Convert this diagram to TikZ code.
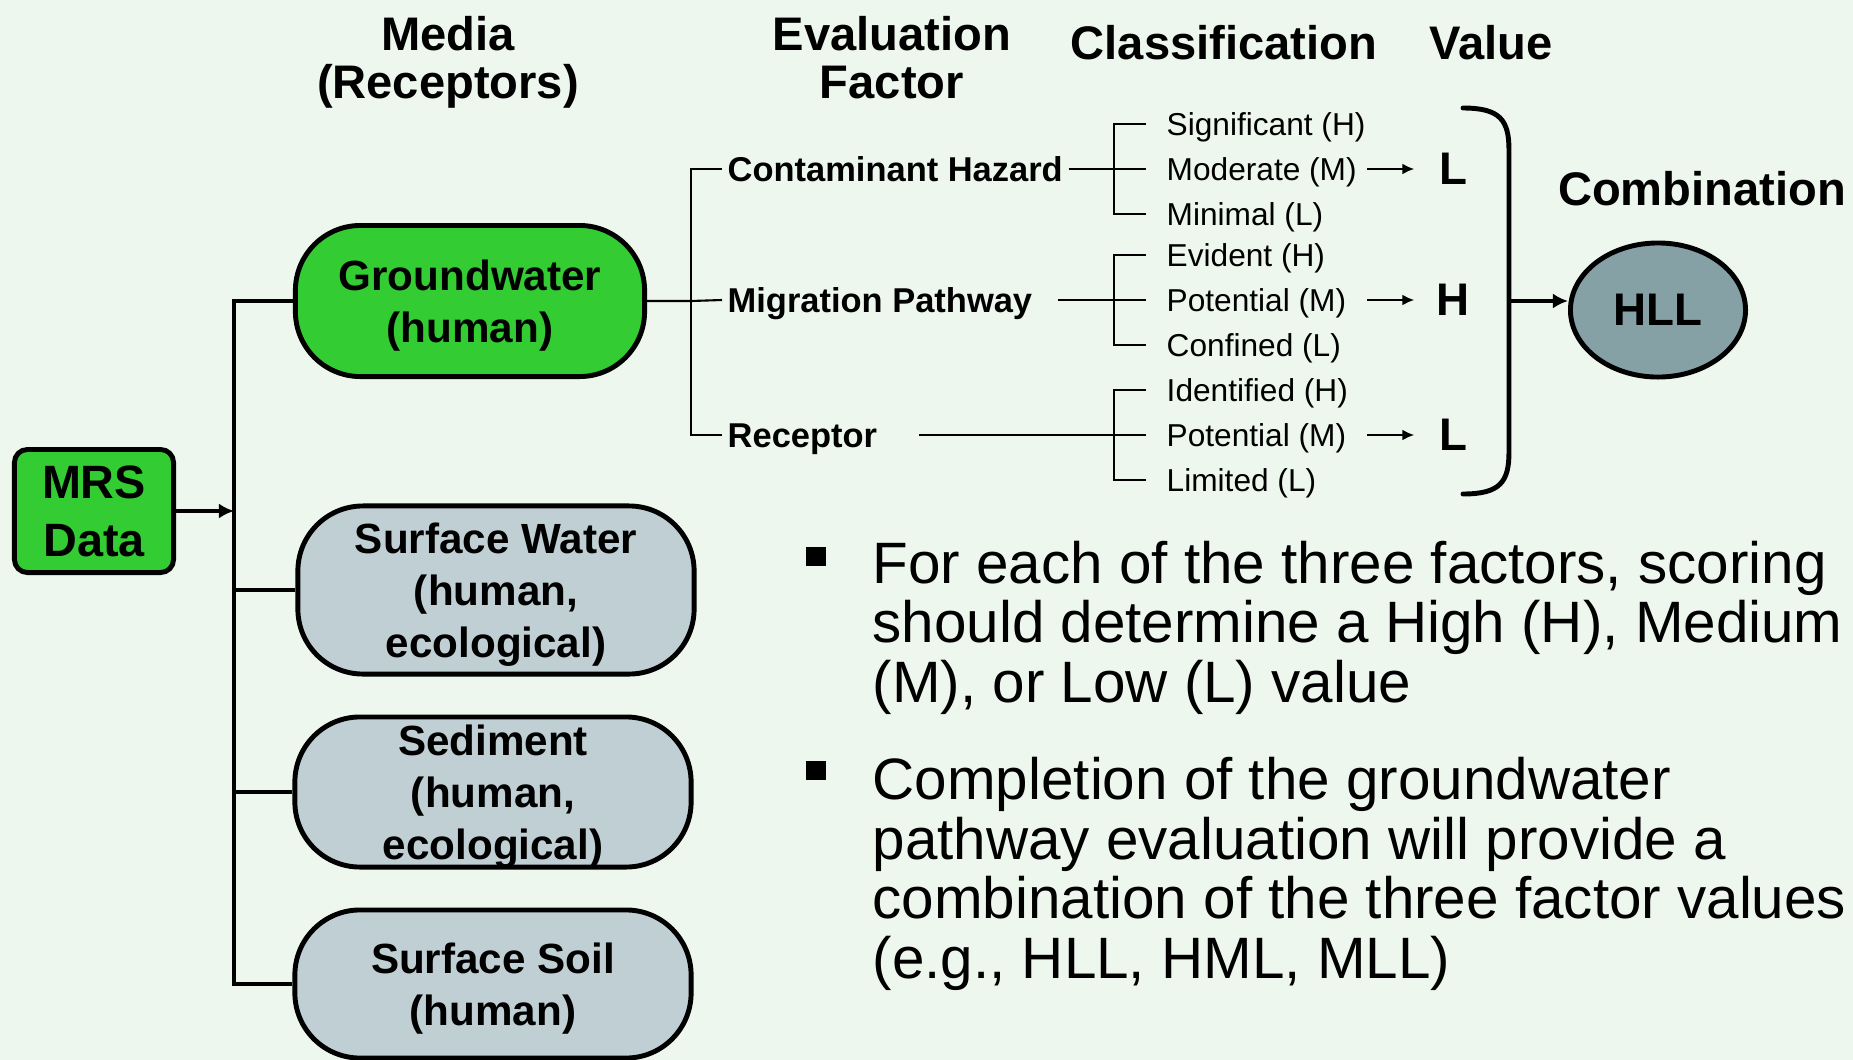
\documentclass[tikz,border=0pt]{standalone}
\usepackage{fontspec}
\setmainfont{Liberation Sans}
\usepackage{xcolor}
\usetikzlibrary{arrows.meta,calc,positioning,shapes.geometric}
\definecolor{bgmint}{RGB}{237,247,237}
\definecolor{mrsgreen}{RGB}{51,204,51}
\definecolor{boxgray}{RGB}{192,207,211}
\definecolor{hllgray}{RGB}{133,161,166}
\tikzset{
  colhead/.style={font=\fontsize{13.4}{13.7}\selectfont\bfseries,align=center,inner sep=0pt},
  mrscard/.style={draw=black,line width=1.4pt,fill=mrsgreen,rounded corners=1.3mm,minimum width=1.59cm,minimum height=1.23cm,inner sep=0pt,align=center,font=\fontsize{13.3}{16.5}\selectfont\bfseries},
  mediacard/.style={draw=black,line width=1.4pt,rounded corners=6.5mm,inner sep=0pt,align=center,text depth=-1.2pt,font=\fontsize{12}{14.8}\selectfont\bfseries},
  greencard/.style={mediacard,fill=mrsgreen,minimum width=3.49cm,minimum height=1.51cm},
  graycard/.style={mediacard,fill=boxgray,minimum width=3.96cm},
  trunk/.style={line width=1.3pt,draw=black},
  fork/.style={line width=0.6pt,draw=black},
  bigarrow/.style={-{Latex[length=1.5mm,width=1.5mm]},line width=1.3pt},
  smallarrow/.style={-{Latex[length=1.2mm,width=1.1mm]},line width=0.6pt},
  factor/.style={anchor=west,inner xsep=0.5mm,inner ysep=0pt,text height=8.8pt,text depth=1.8pt,font=\fontsize{9.8}{11}\selectfont\bfseries},
  classitem/.style={anchor=west,inner xsep=2mm,inner ysep=0pt,text height=8.2pt,text depth=1.7pt,font=\fontsize{9}{10}\selectfont},
  valueletter/.style={minimum width=0.76cm,inner sep=0pt,font=\fontsize{13}{14}\selectfont\bfseries},
  combo/.style={ellipse,draw=black,line width=1.4pt,fill=hllgray,minimum width=1.75cm,minimum height=1.34cm,inner sep=0pt,font=\fontsize{13}{14}\selectfont\bfseries},
  brace/.style={line width=1.4pt,line cap=round},
  bulletsq/.style={fill=black,minimum size=0.19cm,inner sep=0pt},
  bullettext/.style={anchor=base west,align=left,inner sep=0pt,font=\fontsize{16.6}{16.9}\selectfont}
}
\begin{document}
\begin{tikzpicture}[x=0.01cm,y=-0.01cm]
  \fill[bgmint] (0,0) rectangle (1853,1060);
  \useasboundingbox (0,0) rectangle (1853,1060);
  % column heads
  \node[colhead] (hmedia) at (448,62) {Media\\(Receptors)};
  \node[colhead] (heval) at (892,58) {Evaluation\\Factor};
  \node[colhead] (hclass) at (1224,43) {Classification};
  \node[colhead] (hval) at (1491,43) {Value};
  \node[colhead] (hcomb) at (1702,189) {Combination};

  \node[mrscard] (mrs) at (94,511) {MRS\\Data};
  \node[greencard] (gw) at (470,301) {Groundwater\\(human)};
  \node[graycard,minimum height=1.68cm] (sw) at (496,590) {Surface Water\\(human,\\ecological)};
  \node[graycard,minimum height=1.50cm] (sed) at (493,792) {Sediment\\(human,\\ecological)};
  \node[graycard,minimum height=1.48cm] (soil) at (493,984) {Surface Soil\\(human)};

  \coordinate (tk) at (234,301);
  \draw[trunk] (gw.west) -- (tk) -- (tk |- soil.west) -- (soil.west);
  \foreach \m in {sw,sed}{\draw[trunk] (\m.west) -- (\m.west -| tk);}
  \draw[bigarrow] (mrs.east) -- (mrs.east -| tk);

  % evaluation factors
  \node[factor] (ch) at (722,169) {Contaminant Hazard};
  \node[factor] (mp) at (722,300) {Migration Pathway};
  \node[factor] (rc) at (722,435) {Receptor};
  \coordinate (fk) at (691,301);
  \draw[fork] (gw.east) -- (fk) -- (mp.west);
  \draw[fork] (ch.west) -| (fk) |- (rc.west);

  \foreach \g/\yc/\fac/\gap/\ta/\tb/\tc/\v in {1/169/ch/0/Significant (H)/Moderate (M)/Minimal (L)/L,
      2/300/mp/20/Evident (H)/Potential (M)/Confined (L)/H,
      3/435/rc/36/Identified (H)/Potential (M)/Limited (L)/L}{
    \node[classitem] (cA\g) at (1146,\yc-45) {\ta};
    \node[classitem] (cB\g) at (1146,\yc) {\tb};
    \node[classitem] (cC\g) at (1146,\yc+45) {\tc};
    \draw[fork] (cA\g.west) -| (1114,\yc) |- (cC\g.west);
    \draw[fork] ([xshift=\gap*0.01cm]\fac.east) -- (cB\g.west);
    \coordinate (m\g) at (1367,\yc);
    \node[valueletter] (v\g) at (1453,\yc) {\v};
    \draw[smallarrow] (m\g) -- (v\g.west);
  }

  \draw[brace] (1463,108) .. controls (1500,108) and (1509,120) .. (1509,150)
    -- (1509,452) .. controls (1509,482) and (1500,494) .. (1463,494);
  \coordinate (brk) at (1509,301);
  \node[combo] (hll) at (1658,310) {HLL};
  \draw[bigarrow] (brk) -- (brk -| hll.west);

  \node[bulletsq] (sq1) at (816,556) {};
  \node[bullettext] (bt1) at (872,702) {For each of the three factors, scoring\\should determine a High (H), Medium\\(M), or Low (L) value};
  \node[bulletsq] (sq2) at (816,770) {};
  \node[bullettext] (bt2) at (872,978) {Completion of the groundwater\\pathway evaluation will provide a\\combination of the three factor values\\(e.g., HLL, HML, MLL)};
\end{tikzpicture}
\end{document}
